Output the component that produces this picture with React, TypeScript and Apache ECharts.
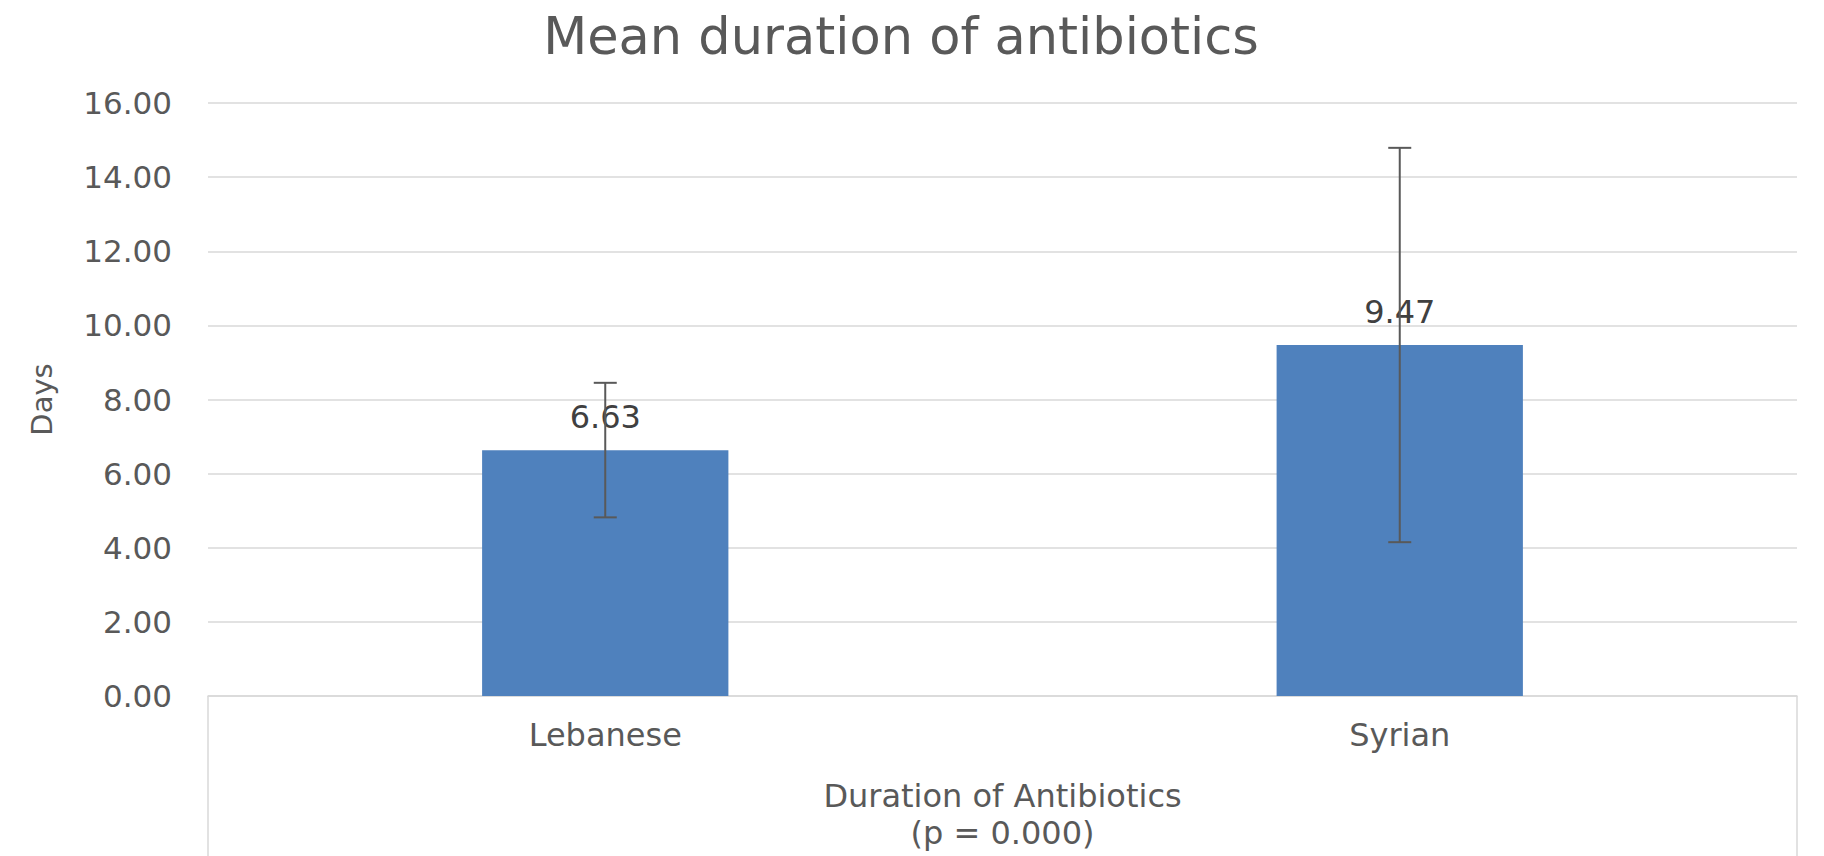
import React, { useEffect, useRef } from "react";
import * as echarts from "echarts";

const categories = ["Lebanese", "Syrian"];
const meanDays = [6.63, 9.47];
const errorLow = [4.82, 4.15];
const errorHigh = [8.45, 14.79];
const yMin = 0;
const yMax = 16;
const yStep = 2;

const W = 1824;
const H = 856;
const GRID = { left: 208, right: 27, top: 103, bottom: 160 };
const FONT = "DejaVu Sans";
const GRID_COLOR = "#d9d9d9";
const TEXT_COLOR = "#595959";

export default function App() {
  const ref = useRef<HTMLDivElement>(null);

  useEffect(() => {
    document.body.style.margin = "0";
    document.body.style.overflow = "hidden";
    if (!ref.current) return;
    const chart = echarts.init(ref.current, undefined, { renderer: "svg" });

    const errData = categories.map((_, i) => [i, errorLow[i], errorHigh[i]]);
    const axisY = H - GRID.bottom;

    chart.setOption({
      animation: false,
      backgroundColor: "#ffffff",
      title: {
        text: "Mean duration of antibiotics",
        left: 896,
        top: 6,
        textAlign: "center",
        textStyle: {
          fontFamily: FONT,
          fontSize: 51,
          fontWeight: "normal",
          color: TEXT_COLOR,
        },
      },
      grid: {
        left: GRID.left,
        right: GRID.right,
        top: GRID.top,
        bottom: GRID.bottom,
        outerBoundsMode: "none",
      },
      xAxis: {
        type: "category",
        data: categories,
        name: "Duration of Antibiotics\n(p = 0.000)",
        nameLocation: "middle",
        nameGap: 81,
        nameTextStyle: {
          fontFamily: FONT,
          fontSize: 32,
          color: TEXT_COLOR,
          lineHeight: 37,
        },
        axisLine: { show: true, lineStyle: { color: GRID_COLOR, width: 1.5 } },
        axisTick: { show: false },
        axisLabel: {
          fontFamily: FONT,
          fontSize: 32,
          color: TEXT_COLOR,
          margin: 23,
        },
      },
      yAxis: {
        type: "value",
        min: yMin,
        max: yMax,
        interval: yStep,
        name: "Days",
        nameLocation: "middle",
        nameGap: 152,
        nameTextStyle: {
          fontFamily: FONT,
          fontSize: 29,
          color: TEXT_COLOR,
        },
        axisLine: { show: false },
        axisTick: { show: false },
        axisLabel: {
          fontFamily: FONT,
          fontSize: 31,
          color: TEXT_COLOR,
          margin: 36,
          formatter: (v: number) => v.toFixed(2),
        },
        splitLine: { lineStyle: { color: GRID_COLOR, width: 1.5 } },
      },
      graphic: [
        {
          type: "line",
          shape: { x1: GRID.left, y1: axisY, x2: GRID.left, y2: H },
          style: { stroke: GRID_COLOR, lineWidth: 1.5 },
        },
        {
          type: "line",
          shape: { x1: W - GRID.right, y1: axisY, x2: W - GRID.right, y2: H },
          style: { stroke: GRID_COLOR, lineWidth: 1.5 },
        },
      ],
      series: [
        {
          type: "bar",
          data: meanDays,
          barWidth: "31%",
          itemStyle: { color: "#4f81bd" },
          label: {
            show: true,
            position: "top",
            distance: 17,
            fontFamily: FONT,
            fontSize: 32,
            color: "#404040",
            formatter: (p: any) => Number(p.value).toFixed(2),
          },
          z: 2,
        },
        {
          type: "custom",
          data: errData,
          encode: { x: 0, y: [1, 2] },
          z: 10,
          renderItem: (params: any, api: any) => {
            const idx = api.value(0);
            const lo = api.coord([idx, api.value(1)]);
            const hi = api.coord([idx, api.value(2)]);
            const half = 11.5;
            const style = { stroke: "#595959", lineWidth: 2 };
            return {
              type: "group",
              children: [
                { type: "line", shape: { x1: lo[0], y1: lo[1], x2: hi[0], y2: hi[1] }, style },
                { type: "line", shape: { x1: hi[0] - half, y1: hi[1], x2: hi[0] + half, y2: hi[1] }, style },
                { type: "line", shape: { x1: lo[0] - half, y1: lo[1], x2: lo[0] + half, y2: lo[1] }, style },
              ],
            };
          },
        },
      ],
    });

    return () => {
      chart.dispose();
    };
  }, []);

  return <div ref={ref} style={{ width: W, height: H }} />;
}
